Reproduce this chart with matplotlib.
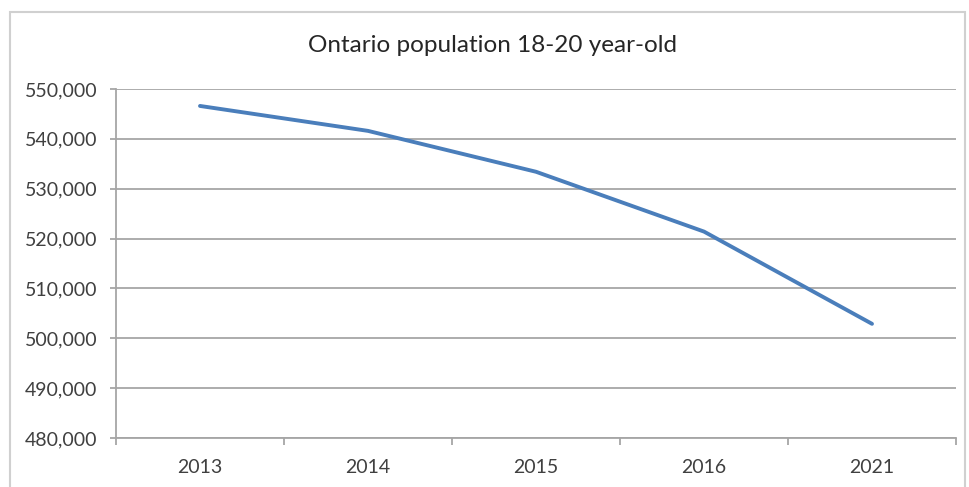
import matplotlib
matplotlib.use('Agg')
import matplotlib.pyplot as plt
from matplotlib.patches import Rectangle
from matplotlib.ticker import FuncFormatter, FixedLocator

years = ['2013', '2014', '2015', '2016', '2021']
population = [546600, 541600, 533400, 521400, 502900]
y_ticks = [480000, 490000, 500000, 510000, 520000, 530000, 540000, 550000]

plt.rcParams['font.family'] = ['Lato', 'DejaVu Sans']
text_col = '#404040'
grid_col = '#a6a6a6'

fig = plt.figure(figsize=(9.69, 4.87), dpi=100)
ax = fig.add_axes([116 / 969, 1 - 438 / 487, 840 / 969, 349 / 487])

# chart area frame
fig.patches.append(Rectangle((10 / 969, -0.05), 955 / 969, 1 - 12 / 487 + 0.05,
                             transform=fig.transFigure, fill=False,
                             edgecolor='#d0d0d0', linewidth=1.5))

x = list(range(len(years)))
ax.plot(x, population, color='#4a7ebb', linewidth=2.8, solid_capstyle='round')

ax.set_xlim(-0.5, len(years) - 0.5)
ax.set_ylim(480000, 550000)
ax.set_yticks(y_ticks)
ax.yaxis.set_major_formatter(FuncFormatter(lambda v, p: f'{int(v):,}'))
ax.grid(axis='y', color=grid_col, linewidth=1.3)
ax.set_axisbelow(True)

ax.set_xticks(x)
ax.set_xticklabels(years)
ax.xaxis.set_minor_locator(FixedLocator([i - 0.5 for i in range(len(years) + 1)]))
ax.tick_params(axis='x', which='major', length=0, pad=15, labelsize=14, labelcolor=text_col)
ax.tick_params(axis='x', which='minor', length=5, color=grid_col, width=1.3)
ax.tick_params(axis='y', length=4.5, color=grid_col, width=1.3, pad=9,
               labelsize=14, labelcolor=text_col)

for side in ['top', 'right']:
    ax.spines[side].set_visible(False)
for side in ['left', 'bottom']:
    ax.spines[side].set_color(grid_col)
    ax.spines[side].set_linewidth(1.3)

fig.text(493 / 969, 1 - 45 / 487, 'Ontario population 18-20 year-old',
         ha='center', va='center', fontsize=17.5, color='#262626')

fig.savefig('out.png', dpi=100)
